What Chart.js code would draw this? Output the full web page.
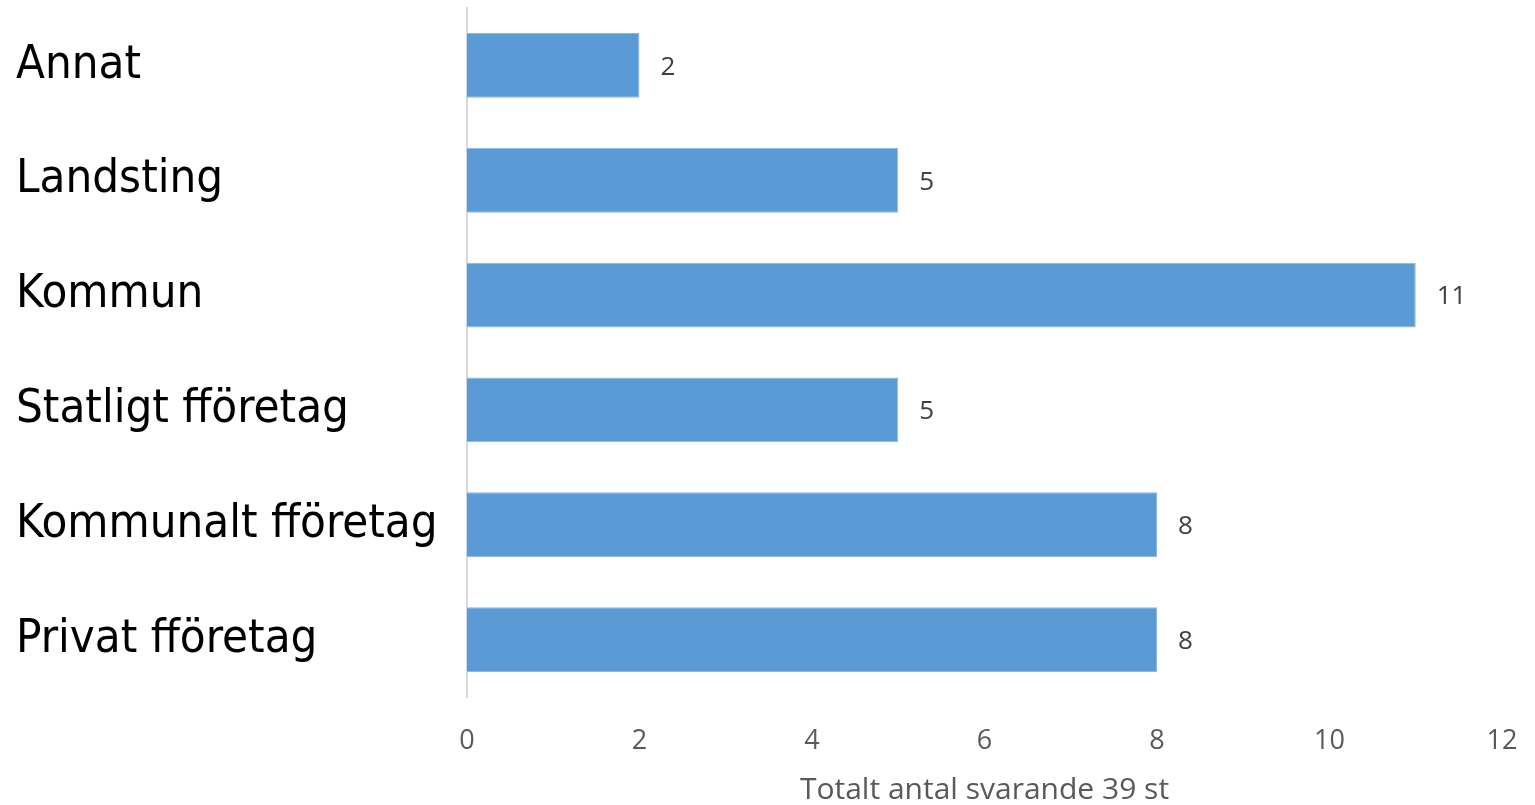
<!DOCTYPE html>
<html>
<head>
<meta charset="utf-8">
<script src="https://cdn.jsdelivr.net/npm/chart.js@4/dist/chart.umd.min.js"></script>
<style>
  html, body { margin: 0; padding: 0; background: #fff; }
  #wrap { width: 1535px; height: 805px; }
</style>
</head>
<body>
<div id="wrap"><canvas id="myChart" width="1535" height="805"></canvas></div>
<script>
const categories = ["Annat", "Landsting", "Kommun", "Statligt fföretag", "Kommunalt fföretag", "Privat fföretag"];
const answers = [2, 5, 11, 5, 8, 8];
const xTicks = [0, 2, 4, 6, 8, 10, 12];
const axisTitle = "Totalt antal svarande 39 st";

// draws the number right of each bar
const valueLabels = {
  id: "valueLabels",
  afterDatasetsDraw(chart) {
    const ctx = chart.ctx;
    const meta = chart.getDatasetMeta(0);
    ctx.save();
    ctx.font = "26px 'Open Sans'";
    ctx.fillStyle = "#404040";
    ctx.textAlign = "left";
    ctx.textBaseline = "middle";
    meta.data.forEach((bar, i) => {
      ctx.fillText(String(answers[i]), bar.x + 21, bar.y + 2);
    });
    ctx.restore();
  }
};

new Chart(document.getElementById("myChart"), {
  type: "bar",
  data: {
    labels: categories,
    datasets: [{
      data: answers,
      backgroundColor: "#5B9BD5",
      borderColor: "#8DB8E3",
      borderWidth: 1,
      barPercentage: 0.565,
      categoryPercentage: 1
    }]
  },
  options: {
    indexAxis: "y",
    responsive: false,
    animation: false,
    layout: { padding: { left: 16, top: 8, right: 33, bottom: 0 } },
    plugins: {
      legend: { display: false },
      tooltip: { enabled: false }
    },
    scales: {
      x: {
        min: 0,
        max: 12,
        afterBuildTicks: (scale) => { scale.ticks = xTicks.map(v => ({ value: v })); },
        afterFit: (scale) => {
          scale.height = 108;
          scale.paddingLeft = 0;
          scale.paddingRight = 0;
        },
        grid: { display: false, drawTicks: false },
        border: { display: false },
        ticks: {
          padding: 28,
          color: "#595959",
          font: { family: "'Open Sans'", size: 27 }
        },
        title: {
          display: true,
          text: axisTitle,
          color: "#595959",
          font: { family: "'Open Sans'", size: 30, lineHeight: 0.95 },
          padding: { top: 0, bottom: 0 }
        }
      },
      y: {
        afterFit: (scale) => {
          scale.width = 451;
          scale.paddingTop = 0;
          scale.paddingBottom = 0;
        },
        grid: { display: false, drawTicks: false },
        border: { display: true, color: "#D9D9D9", width: 2 },
        ticks: {
          crossAlign: "far",
          padding: 10,
          color: "#000000",
          font: { family: "'DejaVu Sans Condensed'", size: 47 }
        }
      }
    }
  },
  plugins: [valueLabels]
});
</script>
</body>
</html>
